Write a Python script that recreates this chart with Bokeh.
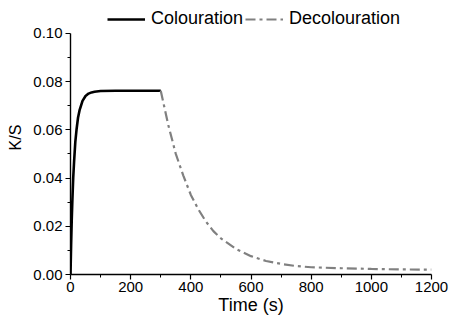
from bokeh.plotting import figure
from bokeh.models import (Range1d, FixedTicker, PrintfTickFormatter, Legend, LegendItem)
from bokeh.embed import file_html
from bokeh.resources import INLINE

# Colouration (rise) data
col_t = [0, 2, 4, 6, 9, 12, 16, 20, 25, 30, 35, 40, 50, 60, 70, 80, 100, 150, 200, 250, 300]
col_y = [0.0, 0.012, 0.022, 0.030, 0.040, 0.047, 0.055, 0.060, 0.065, 0.068, 0.070,
         0.072, 0.074, 0.075, 0.0755, 0.0758, 0.0761, 0.0762, 0.0762, 0.0762, 0.0762]

# Decolouration (decay) data
dec_t = [300, 325, 350, 375, 400, 425, 450, 475, 500, 550, 600, 650, 700, 750, 800,
         900, 1000, 1100, 1200]
dec_y = [0.0762, 0.062, 0.050, 0.041, 0.033, 0.027, 0.022, 0.018, 0.015, 0.0106,
         0.0076, 0.0056, 0.0044, 0.0035, 0.0030, 0.0026, 0.0023, 0.0021, 0.0020]

x_ticks = [0, 200, 400, 600, 800, 1000, 1200]
x_minor = [100, 300, 500, 700, 900, 1100]
y_ticks = [0.00, 0.02, 0.04, 0.06, 0.08, 0.10]
y_minor = [0.01, 0.03, 0.05, 0.07, 0.09]

FONT = "Liberation Sans"

# y range extends a little above 0.10 to leave room for the legend; the axis
# line itself is bounded to 0..0.10
p = figure(width=449, height=317, output_backend="svg", toolbar_location=None,
           x_range=Range1d(0, 1200), y_range=Range1d(0, 0.1136),
           min_border_left=70, min_border_right=18, min_border_top=0,
           min_border_bottom=42)
p.outline_line_color = None
p.grid.visible = False

r1 = p.line(col_t, col_y, line_color="black", line_width=2.6)
r2 = p.line(dec_t, dec_y, line_color="#808080", line_width=2.2, line_dash="10 4 3 4")

for ax in (p.xaxis[0], p.yaxis[0]):
    ax.axis_line_width = 1.4
    ax.axis_line_color = "black"
    ax.major_tick_line_width = 1.2
    ax.minor_tick_line_width = 1.0
    ax.major_tick_out = 5
    ax.major_tick_in = 0
    ax.minor_tick_out = 3
    ax.minor_tick_in = 0
    ax.major_label_text_font = FONT
    ax.major_label_text_font_size = "15px"
    ax.major_label_text_color = "black"
    ax.axis_label_text_font = FONT
    ax.axis_label_text_font_style = "normal"
    ax.axis_label_text_color = "black"

p.yaxis[0].bounds = (0, 0.10)
p.xaxis[0].ticker = FixedTicker(ticks=x_ticks, minor_ticks=x_minor)
p.yaxis[0].ticker = FixedTicker(ticks=y_ticks, minor_ticks=y_minor)
p.yaxis[0].formatter = PrintfTickFormatter(format="%.2f")
p.xaxis[0].major_label_standoff = 2
p.yaxis[0].major_label_standoff = 3
p.xaxis[0].axis_label = "Time (s)"
p.yaxis[0].axis_label = "K/S"
p.xaxis[0].axis_label_text_font_size = "18px"
p.yaxis[0].axis_label_text_font_size = "16px"
p.xaxis[0].axis_label_standoff = 0
p.yaxis[0].axis_label_standoff = 6

legend = Legend(items=[LegendItem(label="Colouration", renderers=[r1]),
                       LegendItem(label="Decolouration", renderers=[r2])],
                orientation="horizontal", location=(37, 245),
                border_line_color=None, background_fill_alpha=0,
                padding=0, margin=0, spacing=2, label_standoff=6,
                glyph_width=38, glyph_height=18,
                label_text_font=FONT, label_text_font_size="18px",
                label_text_color="black")
p.add_layout(legend, "center")

open("out.html", "w").write(file_html(p, INLINE))
